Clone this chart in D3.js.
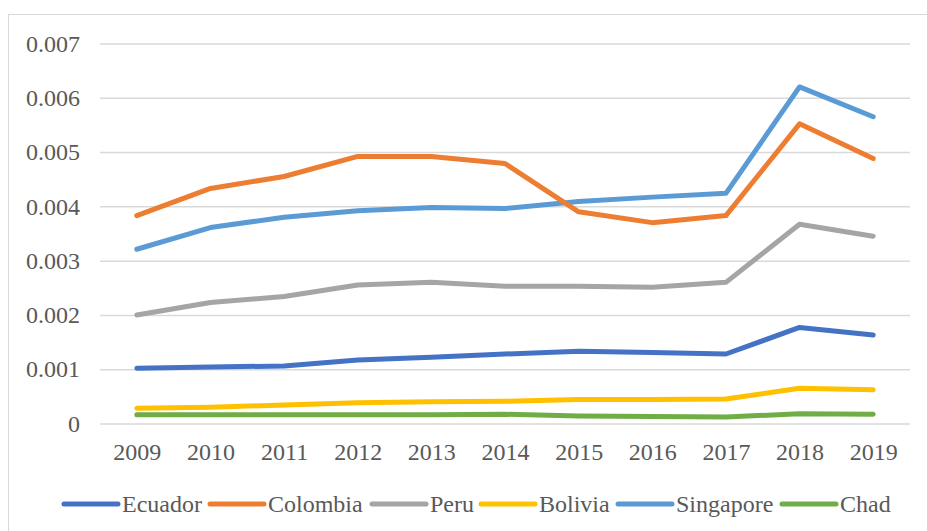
<!DOCTYPE html>
<html>
<head>
<meta charset="utf-8">
<script src="https://cdn.jsdelivr.net/npm/d3@7"></script>
<style>
  body { margin: 0; background: #fff; }
  svg { display: block; }
</style>
</head>
<body>
<svg></svg>
<script>
'use strict'

const years = ['2009', '2010', '2011', '2012', '2013', '2014', '2015', '2016', '2017', '2018', '2019']
const yTicks = [0, 0.001, 0.002, 0.003, 0.004, 0.005, 0.006, 0.007]

const ecuador = [0.00102, 0.00104, 0.00106, 0.00117, 0.00122, 0.00128, 0.00133, 0.00131, 0.00128, 0.00177, 0.00163]
const colombia = [0.00383, 0.00433, 0.00455, 0.00492, 0.00492, 0.00479, 0.0039, 0.0037, 0.00383, 0.00552, 0.00488]
const peru = [0.002, 0.00223, 0.00234, 0.00255, 0.0026, 0.00253, 0.00253, 0.00251, 0.0026, 0.00367, 0.00345]
const bolivia = [0.00028, 0.0003, 0.00034, 0.00038, 0.0004, 0.00041, 0.00044, 0.00044, 0.00045, 0.00065, 0.00062]
const singapore = [0.00321, 0.00361, 0.0038, 0.00392, 0.00398, 0.00396, 0.00409, 0.00417, 0.00424, 0.0062, 0.00565]
const chad = [0.00016, 0.00016, 0.00016, 0.00016, 0.00016, 0.00017, 0.00014, 0.00013, 0.00012, 0.00018, 0.00017]

const series = [
  { name: 'Ecuador', values: ecuador, color: '#4472C4' },
  { name: 'Colombia', values: colombia, color: '#ED7D31' },
  { name: 'Peru', values: peru, color: '#A5A5A5' },
  { name: 'Bolivia', values: bolivia, color: '#FFC000' },
  { name: 'Singapore', values: singapore, color: '#5B9BD5' },
  { name: 'Chad', values: chad, color: '#70AD47' }
]

const fontFamily = 'Liberation Serif, Times New Roman, DejaVu Serif, serif'
const fontSize = '24px'

const width = 927,
  height = 531

const margin = { top: 43.5, right: 17, bottom: 107.5, left: 100 }

const svg = d3.select('svg')
  .attr('width', width)
  .attr('height', height)

function styleText(sel) {
  sel
    .style('font-family', fontFamily)
    .style('font-size', fontSize)
    .style('fill', '#595959')
}

// outer chart frame
svg.append('rect')
  .attr('x', 8.5)
  .attr('y', 14.5)
  .attr('width', 940)
  .attr('height', 540)
  .attr('fill', 'none')
  .attr('stroke', '#d9d9d9')
  .attr('stroke-width', 1)

const xScale = d3.scalePoint()
  .domain(years)
  .range([margin.left, width - margin.right])
  .padding(0.5)

const yScale = d3.scaleLinear()
  .domain([0, 0.007])
  .range([height - margin.bottom, margin.top])

// grid
svg.append('g')
  .attr('class', 'grid')
  .attr('transform', 'translate(' + margin.left + ',0)')
  .call(d3.axisLeft(yScale).tickValues(yTicks).tickSize(-(width - margin.right - margin.left)).tickFormat(''))
  .call(g => g.select('.domain').remove())
  .call(g => g.selectAll('line').attr('stroke', '#d9d9d9').attr('stroke-width', 1.5))

// y labels
svg.append('g')
  .attr('class', 'y-axis')
  .attr('transform', 'translate(' + margin.left + ',0)')
  .call(d3.axisLeft(yScale).tickValues(yTicks).tickSize(0).tickPadding(20).tickFormat(d => d === 0 ? '0' : d3.format('.3f')(d)))
  .call(g => g.select('.domain').remove())
  .call(g => g.selectAll('text').call(styleText))

// x labels
svg.append('g')
  .attr('class', 'x-axis')
  .attr('transform', 'translate(0,' + (height - margin.bottom) + ')')
  .call(d3.axisBottom(xScale).tickSize(0).tickPadding(19))
  .call(g => g.select('.domain').remove())
  .call(g => g.selectAll('text').call(styleText))

const line = d3.line()
  .x((d, i) => xScale(years[i]))
  .y(d => yScale(d))

// draw in reverse so Ecuador sits on top like excel
svg.append('g')
  .selectAll('path')
  .data(series.slice().reverse())
  .join('path')
  .attr('d', d => line(d.values))
  .attr('fill', 'none')
  .attr('stroke', d => d.color)
  .attr('stroke-width', 5)
  .attr('stroke-linecap', 'round')
  .attr('stroke-linejoin', 'round')

// legend
const legendX = [64, 210, 372, 481, 618, 782]
const legendY = 504

const legend = svg.append('g')
  .attr('class', 'legend')
  .selectAll('g')
  .data(series)
  .join('g')
  .attr('transform', (d, i) => 'translate(' + legendX[i] + ',' + legendY + ')')

legend.append('line')
  .attr('x1', 0)
  .attr('x2', 54)
  .attr('y1', 0)
  .attr('y2', 0)
  .attr('stroke', d => d.color)
  .attr('stroke-width', 5)
  .attr('stroke-linecap', 'round')

legend.append('text')
  .attr('x', 58)
  .attr('y', 0)
  .attr('dy', '0.35em')
  .text(d => d.name)
  .call(styleText)
</script>
</body>
</html>
